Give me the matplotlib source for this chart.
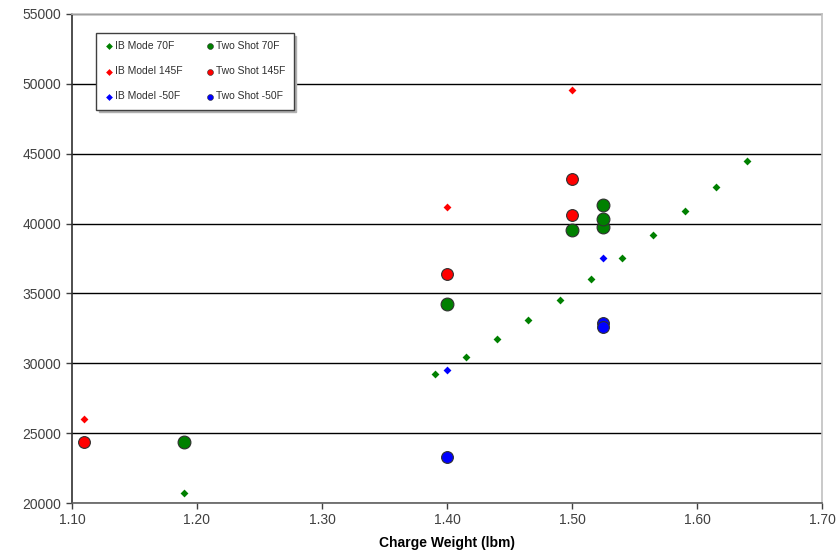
import matplotlib.pyplot as plt
import numpy as np

plt.rcParams['font.family'] = ['Liberation Sans', 'DejaVu Sans']

# IB model predictions
ib70_x = [1.19, 1.39, 1.415, 1.44, 1.465, 1.49, 1.515, 1.54, 1.565, 1.59, 1.615, 1.64]
ib70_y = [20700, 29200, 30450, 31750, 33100, 34550, 36050, 37550, 39200, 40900, 42650, 44500]
ib145_x = [1.11, 1.40, 1.50]
ib145_y = [26000, 41200, 49550]
ibm50_x = [1.40, 1.525]
ibm50_y = [29550, 37550]

# Two shot data
ts70_x = [1.19, 1.40, 1.50, 1.525, 1.525, 1.525]
ts70_y = [24400, 34250, 39550, 39750, 40350, 41350]
ts145_x = [1.11, 1.40, 1.50, 1.50]
ts145_y = [24400, 36400, 40600, 43200]
tsm50_x = [1.40, 1.525, 1.525]
tsm50_y = [23300, 32850, 32600]

fig = plt.figure(figsize=(8.4, 5.53), dpi=100)
ax = fig.add_axes([0.0857, 0.0904, 0.8929, 0.8843])

ax.set_xlim(1.10, 1.70)
ax.set_ylim(20000, 55000)
ax.set_xticks(np.arange(1.10, 1.701, 0.10))
ax.set_xticklabels(['%.2f' % v for v in np.arange(1.10, 1.701, 0.10)])
ax.set_yticks(np.arange(20000, 55001, 5000))
ax.yaxis.grid(True, color='black', linewidth=1.0)
ax.set_axisbelow(True)

for s in ['top', 'right']:
    ax.spines[s].set_color('#c0c0c0')
    ax.spines[s].set_linewidth(1.2)
ax.spines['left'].set_color('#303030')
ax.spines['bottom'].set_color('#606060')
ax.spines['left'].set_linewidth(1.2)
ax.spines['bottom'].set_linewidth(1.2)
ax.tick_params(direction='out', length=4, width=1, color='#404040',
               labelsize=10, labelcolor='#404040')

ax.scatter(ib70_x, ib70_y, marker='D', s=16, color='#008000', linewidths=0,
           label='IB Mode 70F', zorder=3)
ax.scatter(ib145_x, ib145_y, marker='D', s=16, color='#ff0000', linewidths=0,
           label='IB Model 145F', zorder=3)
ax.scatter(ibm50_x, ibm50_y, marker='D', s=16, color='#0000ff', linewidths=0,
           label='IB Model -50F', zorder=3)
ax.scatter(ts70_x, ts70_y, marker='o', s=85, color='#008000', edgecolors='#303030',
           linewidths=0.8, label='Two Shot 70F', zorder=3)
ax.scatter(ts145_x, ts145_y, marker='o', s=72, color='#ff0000', edgecolors='#303030',
           linewidths=0.8, label='Two Shot 145F', zorder=3)
ax.scatter(tsm50_x, tsm50_y, marker='o', s=72, color='#0000ff', edgecolors='#303030',
           linewidths=0.8, label='Two Shot -50F', zorder=3)

ax.set_xlabel('Charge Weight (lbm)', fontsize=10, fontweight='bold', labelpad=6)

leg = ax.legend(loc='upper left', bbox_to_anchor=(0.032, 0.961), ncol=2,
                fontsize=7.5, handletextpad=0.1, borderaxespad=0,
                columnspacing=2.25, labelspacing=1.45, borderpad=0.78,
                handlelength=0.9, fancybox=False,
                shadow={'color': '#b0b0b0', 'alpha': 1},
                edgecolor='#404040', framealpha=1)
leg.get_frame().set_linewidth(1.0)
for i, h in enumerate(leg.legend_handles):
    h.set_sizes([12] if i < 3 else [18])
    h.set_linewidths(0.4 if i >= 3 else 0)
for t in leg.get_texts():
    t.set_color('#303030')

fig.savefig('out.png', dpi=100)
